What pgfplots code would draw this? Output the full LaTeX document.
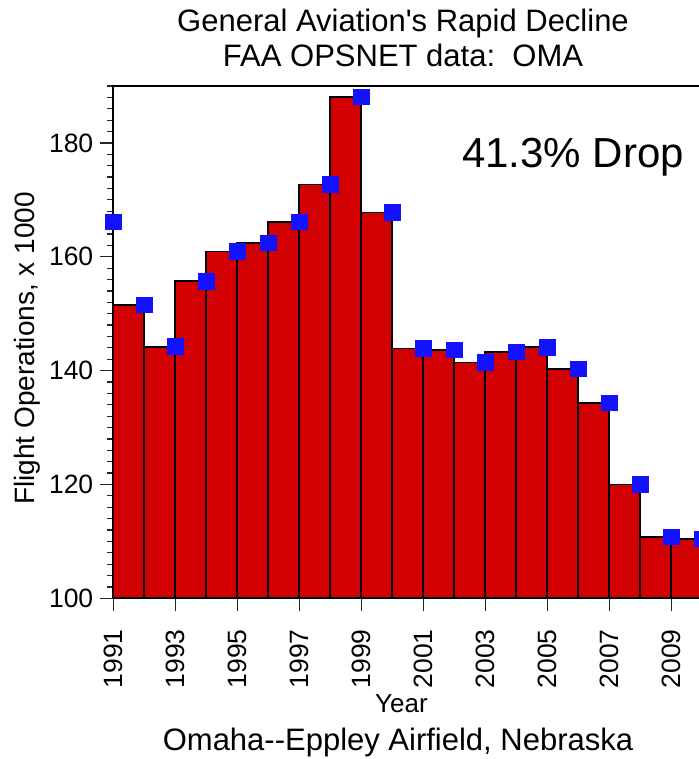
\documentclass[border=0pt]{standalone}
\usepackage{pgfplots}
\usepackage{pgfplotstable}
\pgfplotsset{compat=1.18}
\usepackage{fontspec}
\setmainfont{Liberation Sans}
\definecolor{barred}{RGB}{210,0,0}
\definecolor{mkblue}{RGB}{18,18,255}
\pgfplotstableread{
year ops
1991 166.1
1992 151.5
1993 144.2
1994 155.7
1995 160.9
1996 162.4
1997 166.1
1998 172.7
1999 188.1
2000 167.8
2001 143.9
2002 143.6
2003 141.4
2004 143.3
2005 144.1
2006 140.3
2007 134.3
2008 120.0
2009 110.8
2010 110.4
}\datatable
\begin{document}
\begin{tikzpicture}
\begin{axis}[name=ax, at={(0,0)}, anchor=south west,
  scale only axis, width=294.5pt, height=256.15pt,
  xmin=1991, xmax=2010, ymin=100, ymax=190,
  xtick={1991,1993,...,2009}, ytick={100,120,...,180},
  minor ytick={100,102,...,190},
  tick align=outside, xtick pos=left, ytick pos=left,
  major tick length=6.5pt, minor tick length=3.25pt,
  tick style={black!85, line width=0.6pt},
  axis line style={line width=0.9pt},
  ticklabel style={font=\fontsize{13.25}{15}\selectfont},
  /pgf/number format/assume math mode=true,
  xticklabel style={yshift=-5.5pt, rotate=90, anchor=east, /pgf/number format/1000 sep={}},
]
\addplot[ybar, bar width=1, bar shift=-0.5, fill=barred, draw=black, line width=0.85pt] table[x=year,y=ops]{\datatable};
\addplot[only marks, mark=square*, mark size=3.9pt, mark options={fill=mkblue, draw=mkblue, line width=0pt}] table[x=year,y=ops]{\datatable};
\end{axis}
\node[font=\fontsize{15.5}{18}\selectfont, anchor=base] at ([shift={(144.85pt,283.15pt)}]ax.south west) {General Aviation\textquotesingle s Rapid Decline};
\node[font=\fontsize{15.5}{18}\selectfont, anchor=base] at ([shift={(144.85pt,265.65pt)}]ax.south west) {FAA OPSNET data:~~OMA};
\node[font=\fontsize{21}{24}\selectfont, anchor=base] at ([shift={(229.85pt,215.15pt)}]ax.south west) {41.3\% Drop};
\node[font=\fontsize{14}{16}\selectfont, anchor=base, rotate=90] at ([shift={(-39.15pt,124.95pt)}]ax.south west) {Flight Operations, x 1000};
\node[font=\fontsize{13}{15}\selectfont, anchor=base] at ([shift={(144.1pt,-57.35pt)}]ax.south west) {Year};
\node[font=\fontsize{15.5}{18}\selectfont, anchor=base] at ([shift={(142.35pt,-75.85pt)}]ax.south west) {Omaha-\kern0pt-Eppley Airfield, Nebraska};
\pgfresetboundingbox
\path[use as bounding box] ([shift={(-56.65pt,-80.35pt)}]ax.south west) rectangle ([shift={(292.35pt,299.15pt)}]ax.south west);
\end{tikzpicture}
\end{document}
